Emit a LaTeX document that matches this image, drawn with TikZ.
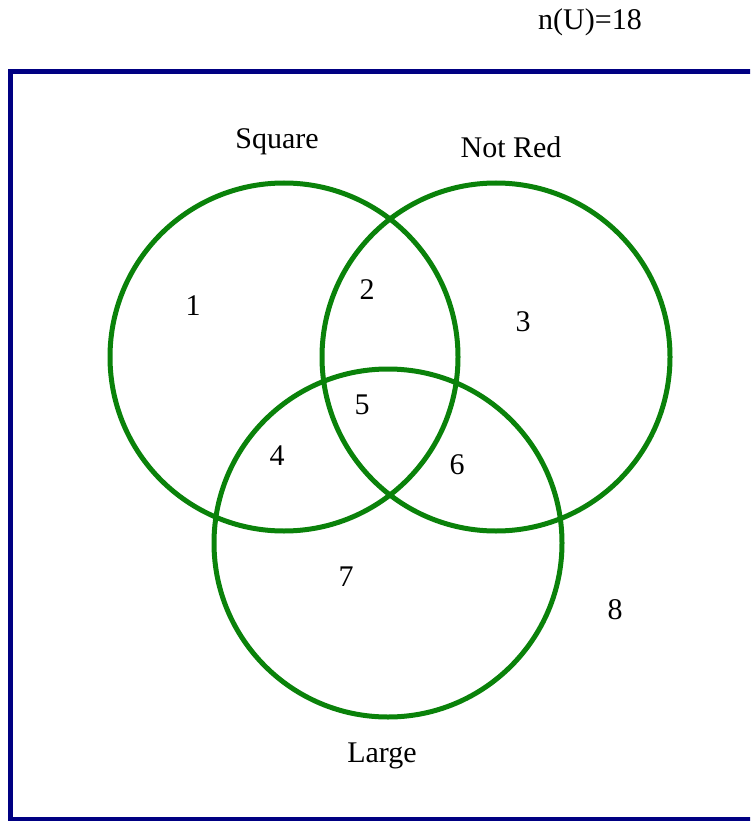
\documentclass[tikz,border=0pt]{standalone}
\usepackage{fontspec}
\setmainfont{Liberation Serif}
\usepackage{xcolor}
\definecolor{setgreen}{RGB}{10,130,10}
\definecolor{framenavy}{RGB}{0,0,130}
\usetikzlibrary{positioning}
\tikzset{
  set/.style={draw=setgreen,circle,line width=5pt,minimum size=348pt,inner sep=0pt},
  lbl/.style={font=\fontsize{30}{32}\selectfont,inner sep=0pt},
  num/.style={font=\fontsize{30}{32}\selectfont,inner sep=0pt},
}

\begin{document}
\begin{tikzpicture}[x=1pt,y=-1pt]
\useasboundingbox (0,0) rectangle (750,821);
\clip (0,0) rectangle (750,821);
\draw[framenavy,line width=5pt] (10.5,72) rectangle (780,819);
\node[set] (sq) at (284,357) {};
\node[set] (nr) at (496,357) {};
\node[set] (lg) at (388,543) {};
% set labels
\node[lbl] (nu) at (590,22) {n(U)=18};
\node[lbl] (sql) at (277,142) {Square};
\node[lbl] (nrl) at (511,147) {Not Red};
\node[lbl] (lgl) at (382,756) {Large};
% regions
\node[num] (r1) at (193,306) {1};
\node[num] (r2) at (367,290) {2};
\node[num] (r3) at (523,322) {3};
\node[num] (r4) at (277,456) {4};
\node[num] (r5) at (362,405) {5};
\node[num] (r6) at (457,465) {6};
\node[num] (r7) at (346,577) {7};
\node[num] (r8) at (615,610) {8};
\end{tikzpicture}
\end{document}
